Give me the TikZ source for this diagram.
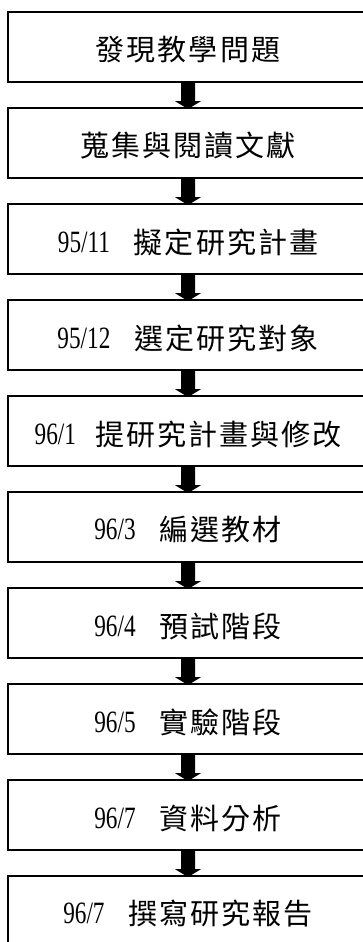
\documentclass[tikz,border=0pt]{standalone}
\usepackage{fontspec}
\newfontfamily\cjkf[LetterSpace=7]{Noto Sans CJK TC}
\newfontfamily\numf[FakeStretch=0.75]{Liberation Serif}
\usetikzlibrary{calc}
\newcommand{\ds}[1]{{\numf\fontsize{31bp}{36bp}\selectfont\raisebox{1bp}{#1}}}
\newcommand{\zh}[1]{{\cjkf\fontsize{29bp}{32bp}\selectfont #1}}
\newcommand{\lowered}[1]{\raisebox{-3bp}[\height][\depth]{#1}}
\tikzset{
  stepbox/.style={draw, line width=1.8bp, minimum width=360bp, minimum height=70bp, inner sep=0pt, fill=white},
  flowarrow/.style={fill=black}
}
\begin{document}
\begin{tikzpicture}[x=1bp,y=1bp]
\useasboundingbox (0,0) rectangle (362,-942);
\node[stepbox] (b1) at (188,-47) {\lowered{\zh{發現教學問題}}};
\node[stepbox] (b2) at (188,-143) {\lowered{\zh{蒐集與閱讀文獻}}};
\node[stepbox] (b3) at (188,-239) {\lowered{\ds{95/11}\hspace{24bp}\zh{擬定研究計畫}}};
\node[stepbox] (b4) at (188,-335) {\lowered{\ds{95/12}\hspace{24bp}\zh{選定研究對象}}};
\node[stepbox] (b5) at (188,-431) {\lowered{\ds{96/1}\hspace{19bp}\zh{提研究計畫與修改}}};
\node[stepbox] (b6) at (188,-527) {\lowered{\ds{96/3}\hspace{24bp}\zh{編選教材}}};
\node[stepbox] (b7) at (188,-623) {\lowered{\ds{96/4}\hspace{24bp}\zh{預試階段}}};
\node[stepbox] (b8) at (188,-719) {\lowered{\ds{96/5}\hspace{24bp}\zh{實驗階段}}};
\node[stepbox] (b9) at (188,-815) {\lowered{\ds{96/7}\hspace{24bp}\zh{資料分析}}};
\node[stepbox] (b10) at (188,-911) {\lowered{\ds{96/7}\hspace{24bp}\zh{撰寫研究報告}}};
\foreach \a/\b in {b1/b2,b2/b3,b3/b4,b4/b5,b5/b6,b6/b7,b7/b8,b8/b9,b9/b10}{
  \fill[flowarrow] ($(\a.south)+(-7,0)$) -- ($(\b.north)+(-7,6)$) -- ($(\b.north)+(-13,6)$)
    -- ($(\b.north)+(0,-2)$) -- ($(\b.north)+(13,6)$) -- ($(\b.north)+(7,6)$)
    -- ($(\a.south)+(7,0)$) -- cycle;
}
\end{tikzpicture}
\end{document}
